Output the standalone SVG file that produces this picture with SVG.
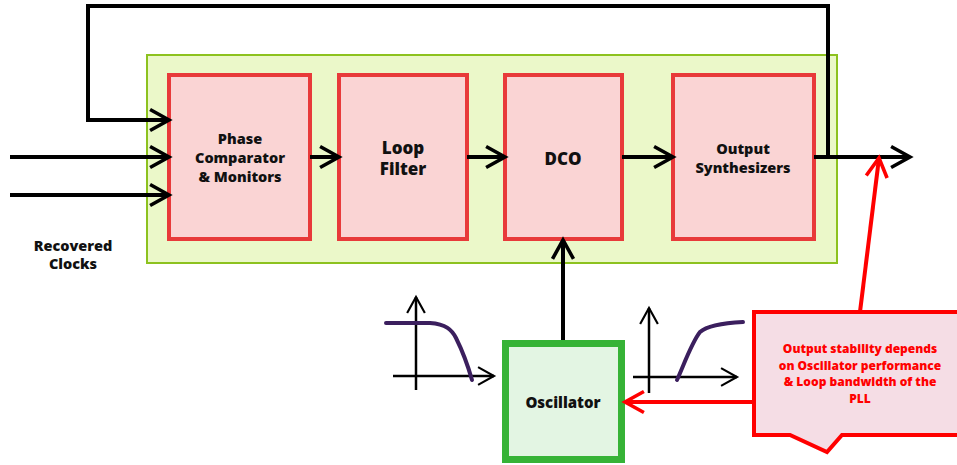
<svg xmlns="http://www.w3.org/2000/svg" width="957" height="465" viewBox="0 0 957 465">
<style>
.blk{fill:#FAD4D4;stroke:#E83A3A;stroke-width:4}
.t{font-family:"Open Sans","Noto Sans",sans-serif;font-weight:800;fill:#111;text-anchor:middle}
.w{fill:none;stroke:#000;stroke-width:4}
.ax{fill:none;stroke:#000;stroke-width:2.5}
.crv{fill:none;stroke:#3B1F5E;stroke-width:4;stroke-linecap:round}
.red{fill:none;stroke:#FF0000;stroke-width:4}
</style>
<defs>
<marker id="ah" viewBox="0 0 12 12" refX="10" refY="6" markerWidth="6.3" markerHeight="6.3" markerUnits="strokeWidth" orient="auto">
<path d="M1,1 L10,6 L1,11" fill="none" stroke="#000" stroke-width="1.7"/>
</marker>
<marker id="ahs" viewBox="0 0 12 12" refX="10" refY="6" markerWidth="8.5" markerHeight="8.5" markerUnits="strokeWidth" orient="auto">
<path d="M1,1 L10,6 L1,11" fill="none" stroke="#000" stroke-width="1.2"/>
</marker>
<marker id="ahr" viewBox="0 0 12 12" refX="10" refY="6" markerWidth="6.3" markerHeight="6.3" markerUnits="strokeWidth" orient="auto">
<path d="M1,1 L10,6 L1,11" fill="none" stroke="#FF0000" stroke-width="1.7"/>
</marker>
</defs>
<rect width="957" height="465" fill="#fff"/>
<g id="pll">
<rect x="147" y="55" width="690" height="208" fill="#EBF8C9" stroke="#8DC21F" stroke-width="2"/>
</g>
<g id="comparator">
<rect class="blk" x="169" y="75" width="141" height="164"/>
<text class="t" font-size="14.5"><tspan x="240" y="144">Phase</tspan><tspan x="240" y="163">Comparator</tspan><tspan x="240" y="182">&amp; Monitors</tspan></text>
</g>
<g id="loopfilter">
<rect class="blk" x="339" y="75" width="128" height="164"/>
<text class="t" font-size="17"><tspan x="403" y="154">Loop</tspan><tspan x="403" y="175">Filter</tspan></text>
</g>
<g id="dco">
<rect class="blk" x="505" y="75" width="117" height="164"/>
<text class="t" font-size="17" x="563" y="165">DCO</text>
</g>
<g id="synth">
<rect class="blk" x="673" y="75" width="141" height="164"/>
<text class="t" font-size="14.5"><tspan x="743" y="154">Output</tspan><tspan x="743" y="173">Synthesizers</tspan></text>
</g>
<g id="oscillator">
<rect x="505.5" y="343.5" width="116" height="116" fill="#E3F5E3" stroke="#36B336" stroke-width="7"/>
<text class="t" font-size="15" x="563" y="408">Oscillator</text>
</g>
<g id="labels">
<text class="t" font-size="14.5"><tspan x="73" y="251">Recovered</tspan><tspan x="73" y="269">Clocks</tspan></text>
</g>
<g id="lowpass">
<line class="ax" x1="416" y1="390" x2="416" y2="297" marker-end="url(#ahs)"/>
<line class="ax" x1="393" y1="376" x2="494" y2="376" marker-end="url(#ahs)"/>
<path class="crv" d="M386,323 L430,323 C446,324 452,330 456,338 C462,350 468,366 472,380"/>
</g>
<g id="highpass">
<line class="ax" x1="649" y1="393" x2="649" y2="308" marker-end="url(#ahs)"/>
<line class="ax" x1="633" y1="377" x2="737" y2="377" marker-end="url(#ahs)"/>
<path class="crv" d="M677,380 C685,362 692,342 700,332 C708,325 725,323 743,322"/>
</g>
<g id="callout">
<path d="M754,312 L959,312 L959,435 L842,435 L827,452 L790,435 L754,435 Z" fill="#F5DDE5" stroke="#FF0000" stroke-width="4"/>
<text class="t" font-size="12" style="fill:#FF0000"><tspan x="860" y="353">Output stability depends</tspan><tspan x="860" y="369.5">on Oscillator performance</tspan><tspan x="860" y="386">&amp; Loop bandwidth of the</tspan><tspan x="860" y="402.5">PLL</tspan></text>
</g>
<g id="connectors">
<line class="w" x1="310" y1="157" x2="339" y2="157" marker-end="url(#ah)"/>
<line class="w" x1="467" y1="157" x2="505" y2="157" marker-end="url(#ah)"/>
<line class="w" x1="622" y1="157" x2="673" y2="157" marker-end="url(#ah)"/>
<line class="w" x1="814" y1="157" x2="910" y2="157" marker-end="url(#ah)"/>
<polyline class="w" points="828,157 828,6 88,6 88,120 169,120" marker-end="url(#ah)"/>
<line class="w" x1="10" y1="157" x2="169" y2="157" marker-end="url(#ah)"/>
<line class="w" x1="10" y1="195" x2="169" y2="195" marker-end="url(#ah)"/>
<line class="w" x1="563" y1="340" x2="563" y2="240" marker-end="url(#ah)"/>
<line class="red" x1="860" y1="312" x2="879" y2="158" marker-end="url(#ahr)"/>
<line class="red" x1="754" y1="402" x2="625" y2="402" marker-end="url(#ahr)"/>
</g>
</svg>
